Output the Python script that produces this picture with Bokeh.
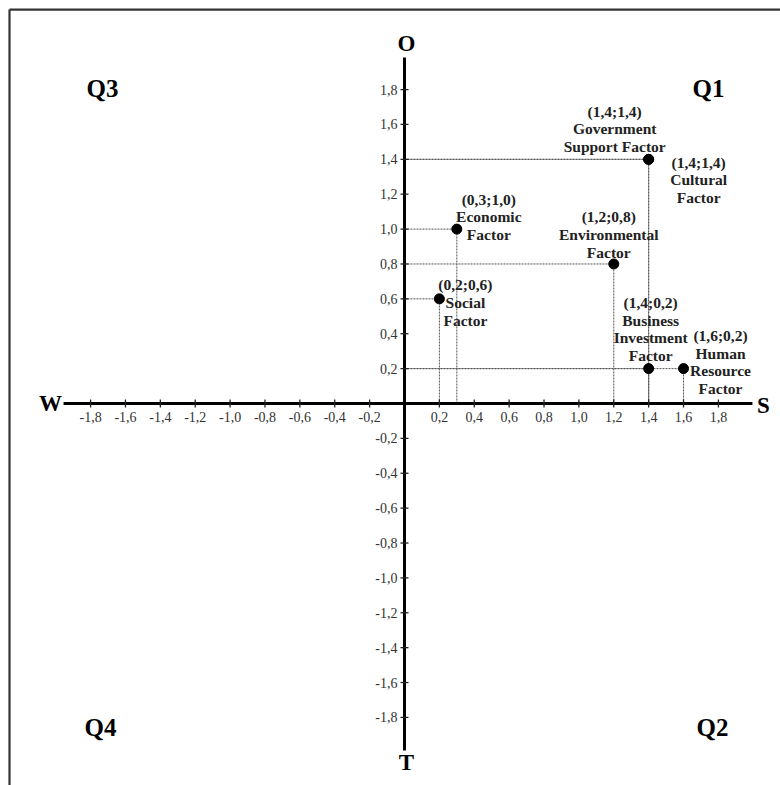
import math
from bokeh.plotting import figure
from bokeh.models import Range1d
from bokeh.core.properties import value
from bokeh.embed import file_html
from bokeh.resources import INLINE

# ---------------- data ----------------
factor_names = ["Government Support Factor", "Cultural Factor", "Economic Factor",
                "Environmental Factor", "Social Factor", "Business Investment Factor",
                "Human Resource Factor"]
factor_x = [1.4, 1.4, 0.3, 1.2, 0.2, 1.4, 1.6]   # S (strength) axis
factor_y = [1.4, 1.4, 1.0, 0.8, 0.6, 0.2, 0.2]   # O (opportunity) axis
name_lines = [["Government", "Support Factor"], ["Cultural", "Factor"],
              ["Economic", "Factor"], ["Environmental", "Factor"],
              ["Social", "Factor"], ["Business", "Investment", "Factor"],
              ["Human", "Resource", "Factor"]]
tick_values = [-1.8, -1.6, -1.4, -1.2, -1.0, -0.8, -0.6, -0.4, -0.2,
               0.2, 0.4, 0.6, 0.8, 1.0, 1.2, 1.4, 1.6, 1.8]
quadrant_labels = ["Q1", "Q2", "Q3", "Q4"]
axis_end_labels = ["S", "W", "O", "T"]

# ---------------- layout / style ----------------
FONT = value("Liberation Serif")
X0, X1 = -2.3165, 2.1560
Y0, Y1 = -2.1904, 2.3108
AX_LEFT, AX_RIGHT, AX_TOP, AX_BOTTOM = -1.955, 1.995, 1.984, -1.99
# label offsets (px): centre dx, first-line dy
label_dx = [-34, 50, 32, -5, 26, 2, 37]
label_dy0 = [-48, 3, -30, -47, -14, -66, -33]
LINE_STEP = 17.6

p = figure(width=780, height=785, x_range=Range1d(X0, X1), y_range=Range1d(Y0, Y1),
           output_backend="svg", toolbar_location=None, min_border=0,
           x_axis_type=None, y_axis_type=None)
p.grid.visible = False
p.outline_line_color = None
p.background_fill_color = "white"
p.border_fill_color = "white"

# frame (top and left only visible)
fx, fy = -2.2649, 2.259
p.segment(x0=[fx, fx], y0=[fy, fy], x1=[X1, fx], y1=[fy, Y0],
          line_color="#333333", line_width=2.2)

# dashed guide lines
p.segment(x0=[0] * len(factor_x), y0=factor_y, x1=factor_x, y1=factor_y,
          line_color="#555555", line_width=1, line_dash="2 1")
p.segment(x0=factor_x, y0=[0] * len(factor_x), x1=factor_x, y1=factor_y,
          line_color="#555555", line_width=1, line_dash="2 1")

# axes
p.segment(x0=[AX_LEFT, 0], y0=[0, AX_BOTTOM], x1=[AX_RIGHT, 0], y1=[0, AX_TOP],
          line_color="black", line_width=3)

# tick marks
p.scatter(x=tick_values, y=[0] * len(tick_values), marker="dash", size=8,
          angle=math.pi / 2, line_color="#222222", line_width=1.3)
p.scatter(x=[0] * len(tick_values), y=tick_values, marker="dash", size=8,
          line_color="#222222", line_width=1.3)

tick_text = [f"{t:.1f}".replace(".", ",") for t in tick_values]
p.text(x=tick_values, y=[0] * len(tick_values), text=tick_text, text_font=FONT,
       text_font_size="14px", text_color="#333333", text_align="center",
       text_baseline="middle", y_offset=14)
p.text(x=[0] * len(tick_values), y=tick_values, text=tick_text, text_font=FONT,
       text_font_size="14px", text_color="#333333", text_align="right",
       text_baseline="middle", x_offset=-7)

# axis end letters
p.text(x=[AX_RIGHT, AX_LEFT, 0, 0], y=[0, 0, AX_TOP, AX_BOTTOM], text=axis_end_labels,
       x_offset=[11, -13, 2, 2], y_offset=[2, 0, -14, 12], text_font=FONT,
       text_font_style="bold", text_font_size="23px", text_color="black",
       text_align="center", text_baseline="middle")

# quadrant labels
p.text(x=[1.743, 1.766, -1.732, -1.743], y=[1.806, -1.858, 1.806, -1.858],
       text=quadrant_labels, text_font=FONT, text_font_style="bold",
       text_font_size="25px", text_color="black", text_align="center",
       text_baseline="middle")

# points
p.scatter(x=factor_x, y=factor_y, size=10, color="black")

# annotations
lx, ly, lt, lxo, lyo = [], [], [], [], []
for i, (x, y) in enumerate(zip(factor_x, factor_y)):
    lines = [f"({x:.1f};{y:.1f})".replace(".", ",")] + name_lines[i]
    for k, s in enumerate(lines):
        lx.append(x); ly.append(y); lt.append(s)
        lxo.append(label_dx[i]); lyo.append(label_dy0[i] + k * LINE_STEP)
p.text(x=lx, y=ly, text=lt, x_offset=lxo, y_offset=lyo, text_font=FONT,
       text_font_style="bold", text_font_size="15.5px", text_color="#222222",
       text_align="center", text_baseline="middle")

open("out.html", "w").write(file_html(p, INLINE))
